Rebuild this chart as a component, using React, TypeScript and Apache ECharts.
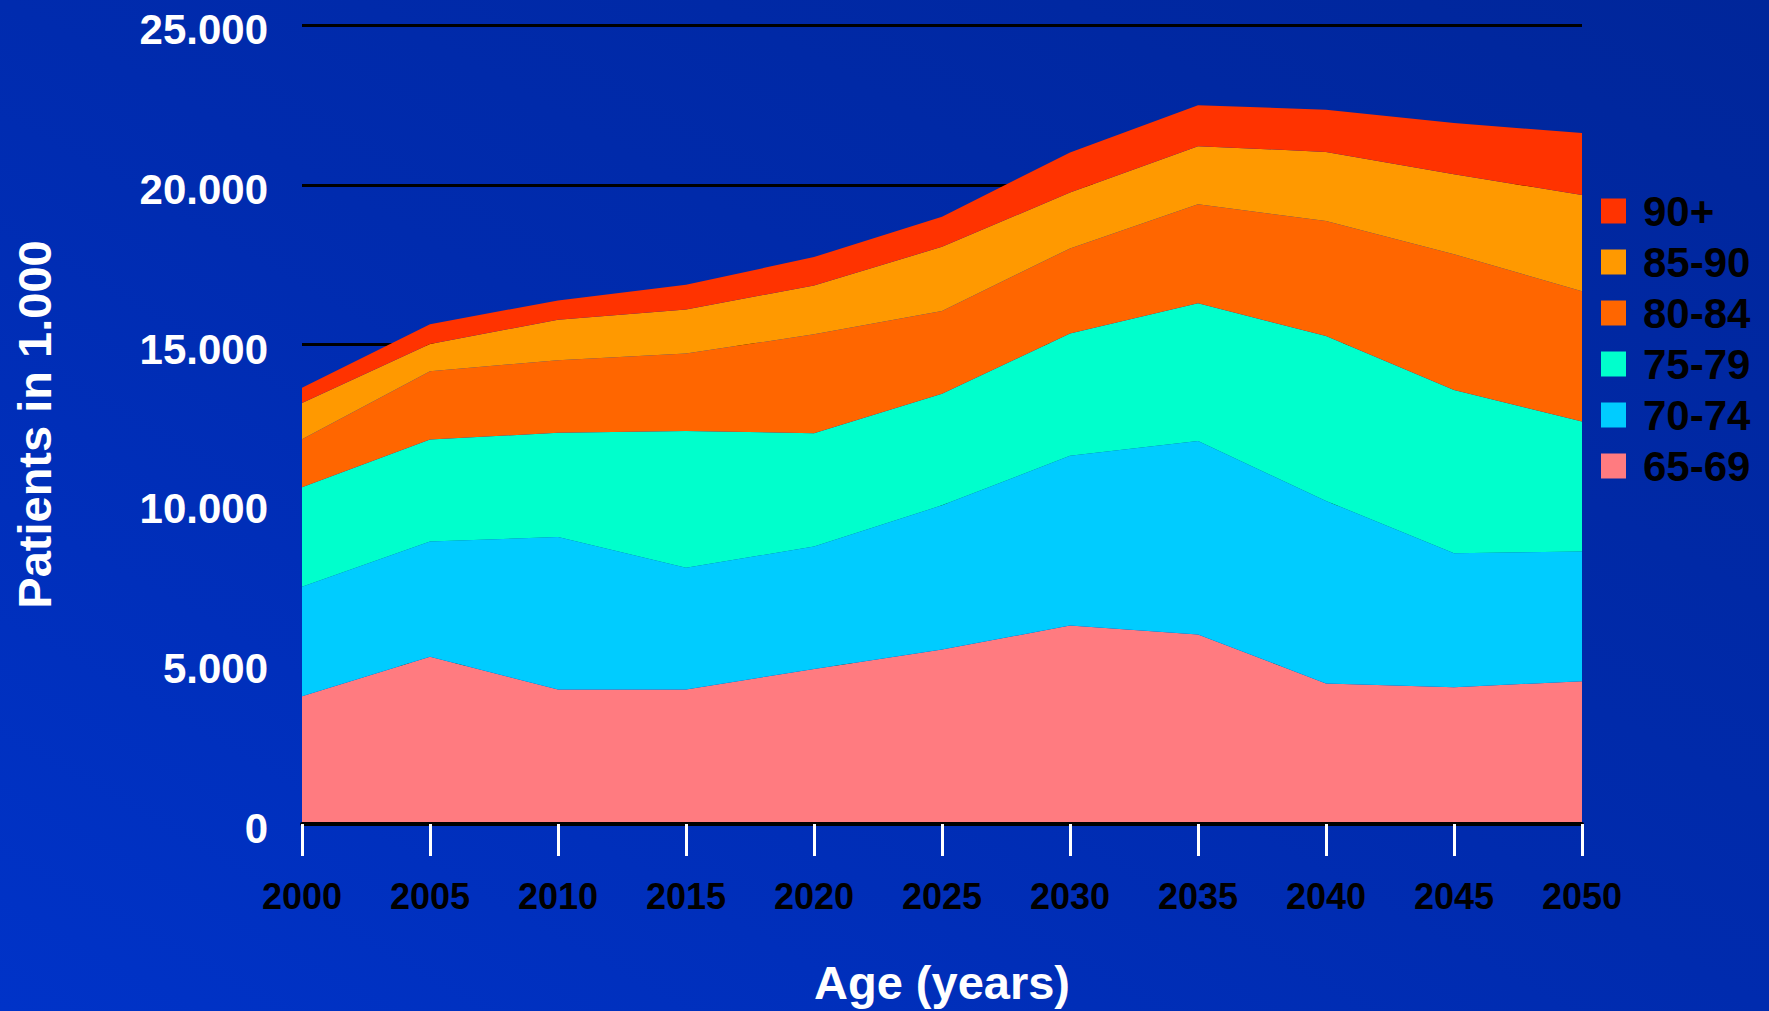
import React, { useEffect, useRef } from "react";
import * as echarts from "echarts";

const years = ["2000", "2005", "2010", "2015", "2020", "2025", "2030", "2035", "2040", "2045", "2050"];
const ageGroups = ["65-69", "70-74", "75-79", "80-84", "85-90", "90+"];
const v6569 = [4000, 5230, 4210, 4210, 4850, 5460, 6210, 5930, 4400, 4280, 4470];
const v7074 = [3420, 3610, 4770, 3810, 3830, 4510, 5310, 6050, 5710, 4190, 4060];
const v7579 = [3120, 3190, 3260, 4280, 3550, 3490, 3830, 4310, 5160, 5110, 4060];
const v8084 = [1500, 2140, 2270, 2420, 3090, 2590, 2660, 3100, 3600, 4250, 4080];
const v8590 = [1130, 850, 1270, 1380, 1530, 2010, 1750, 1820, 2160, 2500, 3010];
const v90p = [480, 620, 600, 770, 890, 940, 1250, 1280, 1320, 1600, 1940];
const seriesValues = [v6569, v7074, v7579, v8084, v8590, v90p];
const seriesColors = ["#FF7B80", "#00CCFF", "#00FFCC", "#FF6600", "#FF9900", "#FF3300"];
const yTicks = [0, 5000, 10000, 15000, 20000, 25000];

const FONT = "'Liberation Sans', Arial, Helvetica, sans-serif";

function fmt(v: number): string {
  if (v === 0) return "0";
  const th = Math.floor(v / 1000);
  const rest = String(v % 1000).padStart(3, "0");
  return th + "." + rest;
}

export default function App() {
  const ref = useRef<HTMLDivElement>(null);
  useEffect(() => {
    document.body.style.margin = "0";
    const chart = echarts.init(ref.current!, null, { renderer: "svg" });
    chart.setOption({
      animation: false,
      backgroundColor: {
        type: "linear",
        x: 0,
        y: 1,
        x2: 1,
        y2: 0,
        colorStops: [
          { offset: 0, color: "#0033C8" },
          { offset: 0.5, color: "#002BAE" },
          { offset: 1, color: "#00269A" },
        ],
      },
      grid: { left: 302, right: 187, top: 25, bottom: 186, containLabel: false },
      legend: {
        orient: "vertical",
        left: 1601,
        top: 190,
        padding: 0,
        itemWidth: 25,
        itemHeight: 25,
        itemGap: 9,
        icon: "rect",
        data: ageGroups.slice().reverse(),
        textStyle: {
          color: "#000000",
          fontSize: 42,
          fontWeight: "bold",
          fontFamily: FONT,
          lineHeight: 42,
          padding: [0, 0, 0, 12],
        },
      },
      xAxis: {
        type: "category",
        data: years,
        boundaryGap: false,
        name: "Age (years)",
        nameLocation: "middle",
        nameGap: 135,
        nameTextStyle: { color: "#FFFFFF", fontSize: 47, fontWeight: "bold", fontFamily: FONT },
        axisLine: { show: true, lineStyle: { color: "#000000", width: 4 } },
        axisTick: { show: true, alignWithLabel: true, length: 32, lineStyle: { color: "#FFFFFF", width: 3 } },
        axisLabel: {
          color: "#000000",
          fontSize: 36,
          fontWeight: "bold",
          fontFamily: FONT,
          margin: 54,
          interval: 0,
        },
        splitLine: { show: false },
        z: 10,
      },
      yAxis: {
        type: "value",
        min: yTicks[0],
        max: yTicks[yTicks.length - 1],
        interval: 5000,
        name: "Patients in 1.000",
        nameLocation: "middle",
        nameGap: 244,
        nameTextStyle: { color: "#FFFFFF", fontSize: 47, fontWeight: "bold", fontFamily: FONT },
        axisLine: { show: false },
        axisTick: { show: false },
        axisLabel: {
          color: "#FFFFFF",
          fontSize: 42,
          fontWeight: "bold",
          fontFamily: FONT,
          margin: 34,
          verticalAlign: "top",
          lineHeight: 9,
          formatter: (v: number) => fmt(v),
        },
        splitLine: { show: true, lineStyle: { color: "#000000", width: 3 } },
      },
      series: ageGroups.map((name, i) => ({
        name,
        type: "line",
        stack: "total",
        data: seriesValues[i],
        showSymbol: false,
        symbol: "none",
        color: seriesColors[i],
        itemStyle: { color: seriesColors[i] },
        lineStyle: { width: 0, color: seriesColors[i] },
        areaStyle: { color: seriesColors[i], opacity: 1 },
        z: 2,
      })),
    });
    return () => chart.dispose();
  }, []);
  return (
    <div
      ref={ref}
      style={{ position: "fixed", left: 0, top: 0, width: 1769, height: 1011 }}
    />
  );
}
